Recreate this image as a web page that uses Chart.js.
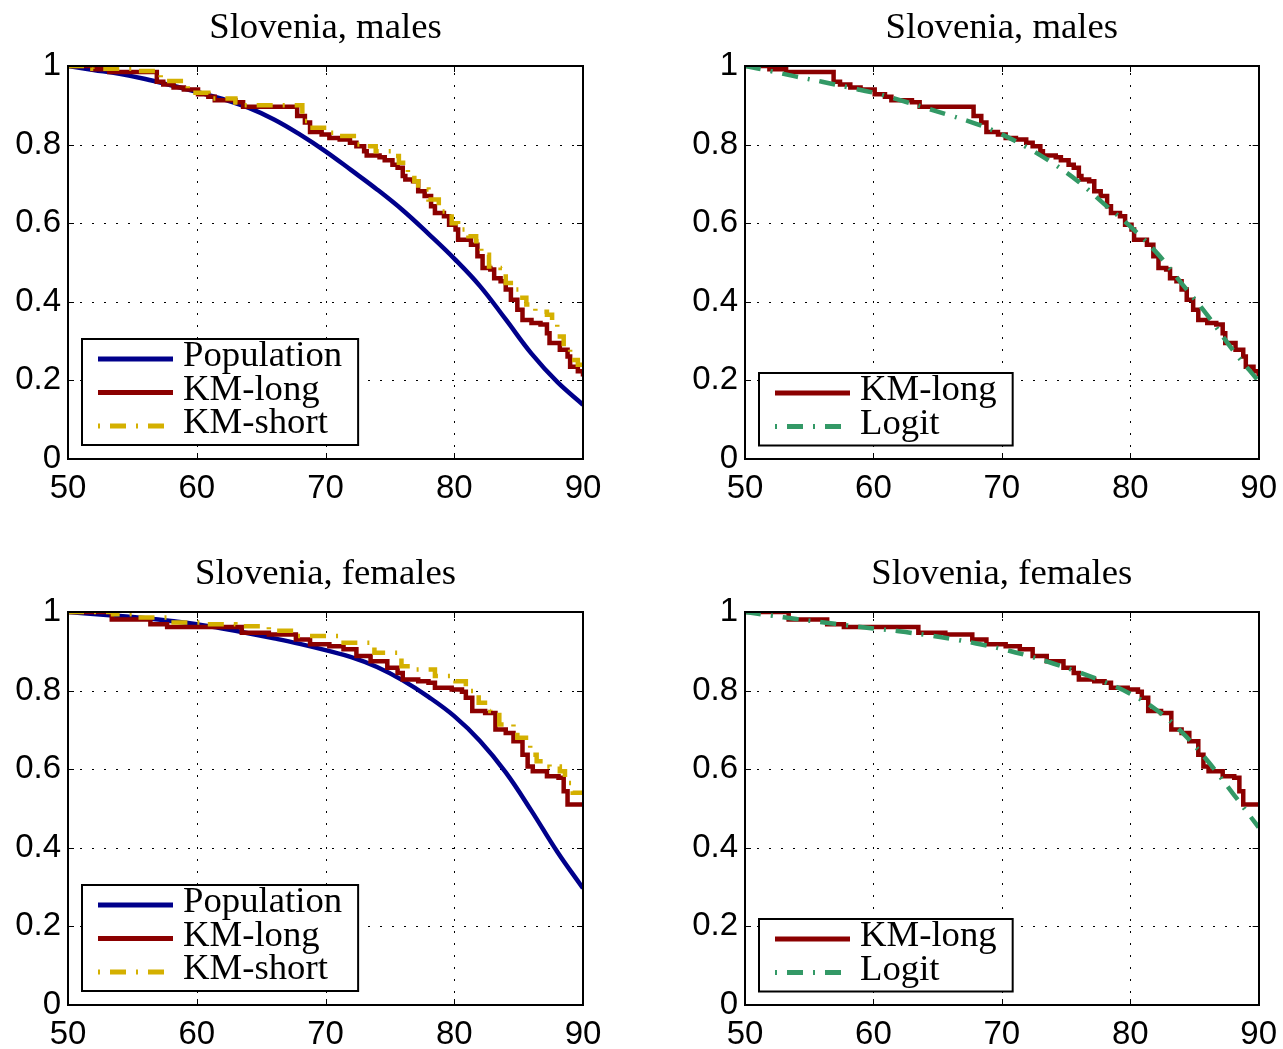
<!DOCTYPE html>
<html lang="en">
<head>
<meta charset="utf-8">
<title>Slovenia survival curves</title>
<script src="https://cdn.jsdelivr.net/npm/chart.js@4.4.1/dist/chart.umd.min.js"></script>
<style>
  body { margin: 0; background: #fff; width: 1283px; height: 1049px; position: relative; overflow: hidden; }
  canvas { position: absolute; }
</style>
</head>
<body>
<canvas id="maleKM" width="641" height="503" style="left:0;top:0"></canvas>
<canvas id="maleLogit" width="610" height="503" style="left:677px;top:0"></canvas>
<canvas id="femaleKM" width="641" height="503" style="left:0;top:546px"></canvas>
<canvas id="femaleLogit" width="610" height="503" style="left:677px;top:546px"></canvas>
<script>
// axis ticks
const xTicks = [50, 60, 70, 80, 90];
const yTicks = [0, 0.2, 0.4, 0.6, 0.8, 1];

// population survival (smooth), read every 2 years
const popAges = [50, 52, 54, 56, 58, 60, 62, 64, 66, 68, 70, 72, 74, 76, 78, 80, 82, 84, 86, 88, 90];
const popMale = [1.0, 0.99, 0.98, 0.967, 0.951, 0.934, 0.916, 0.894, 0.864, 0.826, 0.783, 0.735, 0.686, 0.633, 0.573, 0.51, 0.44, 0.355, 0.268, 0.196, 0.138];
const popFemale = [1.0, 0.995, 0.99, 0.984, 0.977, 0.969, 0.958, 0.946, 0.933, 0.919, 0.903, 0.885, 0.86, 0.826, 0.784, 0.735, 0.672, 0.592, 0.494, 0.39, 0.297];

// logit fit
const logitAges = [50, 52, 54, 56, 58, 60, 62, 64, 66, 68, 70, 72, 74, 76, 78, 80, 82, 84, 86, 88, 90];
const logitMale = [1.0, 0.987, 0.973, 0.96, 0.946, 0.932, 0.914, 0.894, 0.874, 0.853, 0.826, 0.792, 0.752, 0.705, 0.648, 0.592, 0.527, 0.447, 0.366, 0.277, 0.198];
const logitFemale = [1.0, 0.991, 0.982, 0.974, 0.966, 0.958, 0.951, 0.942, 0.932, 0.92, 0.906, 0.889, 0.869, 0.847, 0.822, 0.792, 0.752, 0.695, 0.622, 0.538, 0.452];

// Kaplan-Meier, long sample, males
const kmLongMaleAge = [50, 51.9, 53.2, 56.9, 57.4, 58.2, 59.0, 60.1, 60.9, 61.4, 63.0, 63.6, 67.8, 68.4, 68.8, 69.7, 70.3, 71.1, 71.9, 72.4, 73.0, 73.2, 74.2, 74.6, 75.2, 75.6, 76.0, 76.2, 76.8, 77.2, 77.7, 78.2, 78.5, 79.2, 79.6, 80.1, 80.3, 81.3, 81.8, 82.2, 82.8, 83.1, 83.6, 84.0, 84.4, 84.9, 85.3, 86.0, 86.7, 87.2, 87.4, 88.2, 88.8, 89.0, 89.6, 90];
const kmLongMaleSurv = [1.0, 0.992, 0.985, 0.96, 0.953, 0.945, 0.94, 0.928, 0.922, 0.913, 0.908, 0.896, 0.873, 0.856, 0.832, 0.826, 0.817, 0.813, 0.805, 0.796, 0.783, 0.772, 0.768, 0.76, 0.749, 0.741, 0.72, 0.711, 0.707, 0.681, 0.669, 0.643, 0.626, 0.618, 0.596, 0.584, 0.558, 0.545, 0.516, 0.486, 0.482, 0.46, 0.452, 0.431, 0.405, 0.38, 0.354, 0.346, 0.342, 0.32, 0.295, 0.278, 0.261, 0.235, 0.223, 0.21];

// Kaplan-Meier, short sample, males
const kmShortMaleAge = [50, 51.9, 55.3, 57.2, 59.3, 60.9, 63.0, 63.6, 68.2, 68.8, 70.3, 71.1, 72.2, 73.1, 73.9, 75.1, 75.7, 76.4, 76.9, 77.2, 78.0, 78.8, 79.8, 80.3, 81.1, 81.7, 82.1, 82.7, 83.6, 84.0, 84.7, 85.1, 85.6, 86.3, 87.2, 87.6, 88.0, 88.5, 89.0, 89.6, 90];
const kmShortMaleSurv = [1.0, 0.993, 0.987, 0.962, 0.932, 0.917, 0.907, 0.9, 0.86, 0.843, 0.83, 0.822, 0.8, 0.796, 0.783, 0.771, 0.754, 0.728, 0.707, 0.686, 0.66, 0.63, 0.6, 0.584, 0.567, 0.554, 0.52, 0.49, 0.486, 0.448, 0.431, 0.41, 0.393, 0.375, 0.367, 0.346, 0.312, 0.278, 0.252, 0.24, 0.235];

// Kaplan-Meier, long sample, females
const kmLongFemaleAge = [50, 53.4, 56.4, 57.7, 63.5, 65.6, 67.7, 68.8, 70.3, 71.4, 72.4, 73.5, 74.8, 75.6, 76.0, 77.2, 78.0, 78.5, 79.8, 80.6, 80.9, 81.4, 82.4, 83.2, 84.0, 84.6, 85.3, 85.7, 86.1, 87.2, 88.1, 88.5, 88.8, 90];
const kmLongFemaleSurv = [1.0, 0.981, 0.969, 0.962, 0.947, 0.943, 0.93, 0.918, 0.913, 0.905, 0.888, 0.875, 0.858, 0.845, 0.828, 0.824, 0.82, 0.807, 0.803, 0.797, 0.782, 0.748, 0.743, 0.701, 0.692, 0.671, 0.637, 0.607, 0.595, 0.582, 0.578, 0.544, 0.51, 0.51];

// Kaplan-Meier, short sample, females
const kmShortFemaleAge = [50, 53.5, 55.3, 57.7, 60.6, 63.0, 65.6, 67.7, 71.1, 73.8, 75.9, 76.9, 78.5, 80.1, 80.9, 81.9, 82.8, 83.5, 84.6, 84.9, 85.9, 86.4, 87.4, 88.2, 88.6, 89.2, 90];
const kmShortFemaleSurv = [1.0, 0.994, 0.986, 0.973, 0.969, 0.964, 0.952, 0.939, 0.922, 0.896, 0.862, 0.854, 0.837, 0.824, 0.799, 0.769, 0.748, 0.714, 0.701, 0.68, 0.637, 0.62, 0.607, 0.595, 0.565, 0.54, 0.54];

const BLUE = '#00008b', RED = '#8b0000', GOLD = '#d4b000', GREEN = '#339966';
const DASHDOT = [16, 10, 2, 10];
const LW = 4.5;

function pts(xs, ys) {
  return xs.map((x, i) => ({ x, y: ys[i] }));
}

function popSet(ys) {
  return { label: 'Population', data: pts(popAges, ys), borderColor: BLUE, borderWidth: LW, tension: 0.4, order: 2 };
}
function kmLongSet(xs, ys) {
  return { label: 'KM-long', data: pts(xs, ys), borderColor: RED, borderWidth: LW, stepped: true, order: 1 };
}
function kmShortSet(xs, ys) {
  return { label: 'KM-short', data: pts(xs, ys), borderColor: GOLD, borderWidth: LW, stepped: true, borderDash: DASHDOT, order: 0 };
}
function logitSet(ys) {
  return { label: 'Logit', data: pts(logitAges, ys), borderColor: GREEN, borderWidth: LW, tension: 0.4, borderDash: DASHDOT, order: 0 };
}

// text drawn a little wider, closer to the TeX serif of the original
function wideText(ctx, text, x, y, stretch) {
  ctx.save();
  ctx.translate(x, y);
  ctx.scale(stretch, 1);
  ctx.fillText(text, 0, 0);
  ctx.restore();
}

// dotted grid, box frame with inward ticks, title and boxed legend
const matlabLook = {
  id: 'matlabLook',
  beforeDatasetsDraw(chart) {
    const { ctx, chartArea: a, scales: { x, y } } = chart;
    ctx.save();
    ctx.strokeStyle = '#000';
    ctx.lineWidth = 1;
    ctx.setLineDash([2, 10]);
    xTicks.forEach(v => {
      const px = Math.round(x.getPixelForValue(v)) + 0.5;
      if (px <= a.left + 2 || px >= a.right - 2) return;
      ctx.beginPath(); ctx.moveTo(px, a.bottom); ctx.lineTo(px, a.top); ctx.stroke();
    });
    yTicks.forEach(v => {
      const py = Math.round(y.getPixelForValue(v)) + 0.5;
      if (py <= a.top + 2 || py >= a.bottom - 2) return;
      ctx.beginPath(); ctx.moveTo(a.left, py); ctx.lineTo(a.right, py); ctx.stroke();
    });
    ctx.restore();
  },
  afterDatasetsDraw(chart) {
    const { ctx, chartArea: a, scales: { x, y } } = chart;
    ctx.save();
    ctx.strokeStyle = '#000';
    ctx.lineWidth = 1;
    xTicks.forEach(v => {
      const px = Math.round(x.getPixelForValue(v)) + 0.5;
      ctx.beginPath();
      ctx.moveTo(px, a.bottom); ctx.lineTo(px, a.bottom - 6);
      ctx.moveTo(px, a.top); ctx.lineTo(px, a.top + 6);
      ctx.stroke();
    });
    yTicks.forEach(v => {
      const py = Math.round(y.getPixelForValue(v)) + 0.5;
      ctx.beginPath();
      ctx.moveTo(a.left, py); ctx.lineTo(a.left + 6, py);
      ctx.moveTo(a.right, py); ctx.lineTo(a.right - 6, py);
      ctx.stroke();
    });
    ctx.lineWidth = 2;
    ctx.strokeRect(Math.round(a.left), Math.round(a.top), Math.round(a.right - a.left), Math.round(a.bottom - a.top));
    ctx.restore();
  },
  afterDraw(chart, args, opts) {
    const { ctx, chartArea: a } = chart;
    ctx.save();
    // title centred over the plot box
    ctx.fillStyle = '#000';
    ctx.font = '36px "Liberation Serif"';
    ctx.textAlign = 'center';
    ctx.textBaseline = 'alphabetic';
    wideText(ctx, opts.title, (a.left + a.right) / 2, 38, 1.02);

    // legend in the lower left corner
    const sets = chart.data.datasets;
    const stretch = 1.02;
    ctx.font = '36px "Liberation Serif"';
    const textW = Math.max(...sets.map(d => ctx.measureText(d.label).width)) * stretch;
    const rowH = 33.5;
    const boxW = 101 + textW + 16;
    const boxH = (sets.length - 1) * rowH + 39;
    const bx = Math.round(a.left + 14), by = Math.round(a.bottom - 14 - boxH);
    ctx.fillStyle = '#fff';
    ctx.fillRect(bx, by, boxW, boxH);
    ctx.strokeStyle = '#000';
    ctx.lineWidth = 2;
    ctx.strokeRect(bx, by, boxW, boxH);
    sets.forEach((d, i) => {
      const ry = by + 20 + i * rowH;
      ctx.save();
      ctx.strokeStyle = d.borderColor;
      ctx.lineWidth = 5;
      ctx.setLineDash(d.borderDash ? [2, 10, 16, 10] : []);
      ctx.beginPath(); ctx.moveTo(bx + 16, ry); ctx.lineTo(bx + 91, ry); ctx.stroke();
      ctx.restore();
      ctx.fillStyle = '#000';
      ctx.textAlign = 'left';
      ctx.textBaseline = 'middle';
      wideText(ctx, d.label, bx + 101, ry - 2, stretch);
    });
    ctx.restore();
  }
};

function makeChart(id, title, datasets, padRight) {
  return new Chart(document.getElementById(id), {
    type: 'line',
    data: { datasets },
    plugins: [matlabLook],
    options: {
      responsive: false,
      animation: false,
      events: [],
      layout: { padding: { top: 66, right: padRight, left: 0, bottom: 0 } },
      elements: { point: { radius: 0 } },
      plugins: { legend: { display: false }, tooltip: { enabled: false }, matlabLook: { title } },
      scales: {
        x: {
          type: 'linear', min: 50, max: 90,
          afterBuildTicks: s => { s.ticks = xTicks.map(v => ({ value: v })); },
          afterFit: s => { s.height = 44; },
          grid: { display: false, drawTicks: false },
          border: { display: false },
          ticks: { color: '#000', padding: 10, maxRotation: 0, autoSkip: false, font: { family: 'Liberation Sans', size: 33 }, callback: v => String(v) }
        },
        y: {
          type: 'linear', min: 0, max: 1,
          afterBuildTicks: s => { s.ticks = yTicks.map(v => ({ value: v })); },
          afterFit: s => { s.width = 68; },
          grid: { display: false, drawTicks: false },
          border: { display: false },
          ticks: { color: '#000', padding: 7, autoSkip: false, font: { family: 'Liberation Sans', size: 33 }, callback: v => String(v) }
        }
      }
    }
  });
}

makeChart('maleKM', 'Slovenia, males', [
  popSet(popMale),
  kmLongSet(kmLongMaleAge, kmLongMaleSurv),
  kmShortSet(kmShortMaleAge, kmShortMaleSurv)
], 58);
makeChart('maleLogit', 'Slovenia, males', [
  kmLongSet(kmLongMaleAge, kmLongMaleSurv),
  logitSet(logitMale)
], 28);
makeChart('femaleKM', 'Slovenia, females', [
  popSet(popFemale),
  kmLongSet(kmLongFemaleAge, kmLongFemaleSurv),
  kmShortSet(kmShortFemaleAge, kmShortFemaleSurv)
], 58);
makeChart('femaleLogit', 'Slovenia, females', [
  kmLongSet(kmLongFemaleAge, kmLongFemaleSurv),
  logitSet(logitFemale)
], 28);
</script>
</body>
</html>
